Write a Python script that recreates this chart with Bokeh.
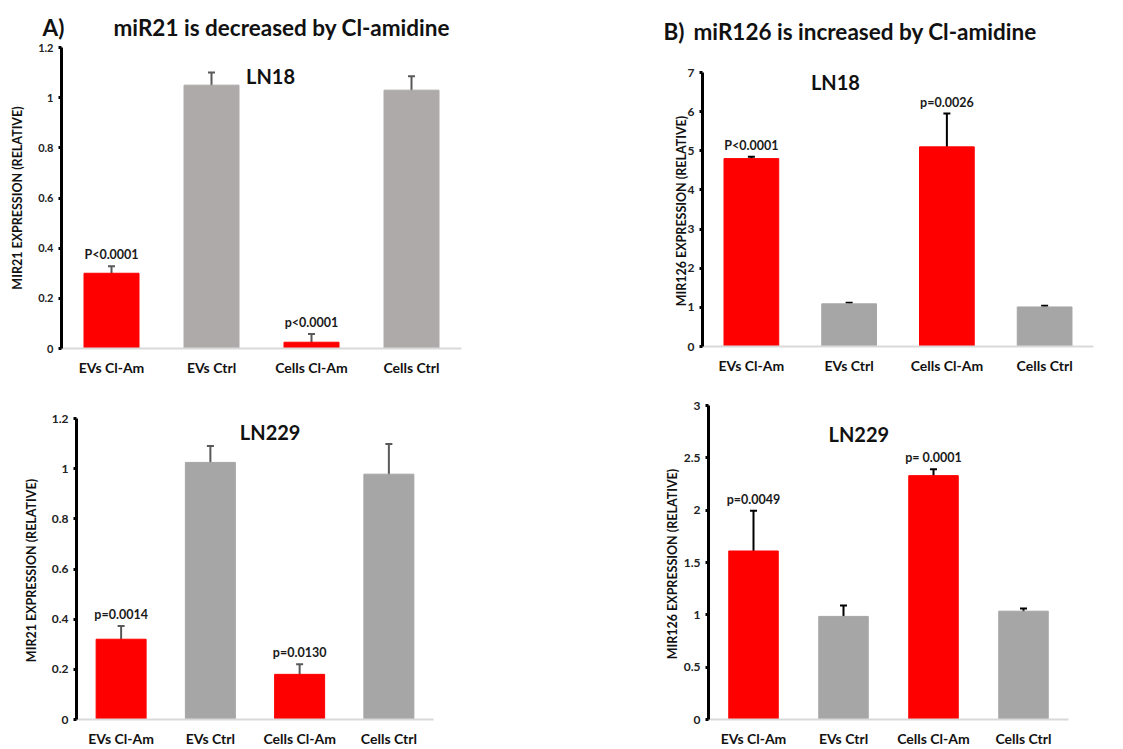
from bokeh.plotting import figure
from bokeh.models import (ColumnDataSource, FactorRange, Range1d, FixedTicker,
                          NumeralTickFormatter, Whisker, TeeHead, Label)
from bokeh.layouts import column, row
from bokeh.embed import file_html
from bokeh.resources import INLINE
from bokeh.core.properties import value

# ---------------- data ----------------
categories = ["EVs Cl-Am", "EVs Ctrl", "Cells Cl-Am", "Cells Ctrl"]

# A) miR21, LN18
ln18_mir21 = [0.30, 1.05, 0.025, 1.03]
ln18_mir21_err = [0.028, 0.05, 0.033, 0.055]
ln18_mir21_p = ["P<0.0001", "", "p<0.0001", ""]

# B) miR126, LN18
ln18_mir126 = [4.80, 1.09, 5.10, 1.01]
ln18_mir126_err = [0.05, 0.03, 0.85, 0.03]
ln18_mir126_p = ["P<0.0001", "", "p=0.0026", ""]

# A) miR21, LN229
ln229_mir21 = [0.32, 1.025, 0.18, 0.978]
ln229_mir21_err = [0.053, 0.065, 0.04, 0.12]
ln229_mir21_p = ["p=0.0014", "", "p=0.0130", ""]

# B) miR126, LN229
ln229_mir126 = [1.61, 0.985, 2.33, 1.035]
ln229_mir126_err = [0.385, 0.105, 0.06, 0.025]
ln229_mir126_p = ["p=0.0049", "", "p= 0.0001", ""]

ticks_mir21 = [0, 0.2, 0.4, 0.6, 0.8, 1, 1.2]
ticks_mir126_ln18 = [0, 1, 2, 3, 4, 5, 6, 7]
ticks_mir126_ln229 = [0, 0.5, 1, 1.5, 2, 2.5, 3]

heading_a = ["A)", "miR21 is decreased by Cl-amidine"]
heading_b = ["B)", "miR126 is increased by Cl-amidine"]

FONT = "Lato"
RED = "#ff0000"
STRIP_A = 41
STRIP_B = 48


def heading(letter, text, x_letter, x_text, strip_h, y_center):
    h = figure(width=560, height=strip_h, output_backend="svg",
               toolbar_location=None, tools="", x_range=Range1d(0, 560),
               y_range=Range1d(0, strip_h), x_axis_location=None,
               y_axis_location=None, min_border=0)
    h.outline_line_color = None
    h.xgrid.grid_line_color = None
    h.ygrid.grid_line_color = None
    for t, x in ((letter, x_letter), (text, x_text)):
        h.add_layout(Label(x=x, y=strip_h - y_center, x_units="screen",
                           y_units="screen", text=t, text_font=FONT,
                           text_font_style="bold", text_font_size="22.5px",
                           text_baseline="middle", text_color="#111111"))
    return h


def panel(vals, errs, plabels, gray, err_color, ymax, ticks, ylabel, title,
          title_x, title_y, width, height, borders, bar_w, ylab_standoff,
          xlab_standoff, tick_size="12px"):
    upper = [v + e for v, e in zip(vals, errs)]
    lower = [max(v - e, 0) for v, e in zip(vals, errs)]
    colors = [RED, gray, RED, gray]
    src = ColumnDataSource(dict(x=categories, top=vals, upper=upper,
                                lower=lower, color=colors, p=plabels))
    p = figure(x_range=FactorRange(*categories), y_range=Range1d(0, ymax),
               width=width, height=height, output_backend="svg",
               toolbar_location=None, tools="")
    p.min_border_left, p.min_border_right, p.min_border_top, p.min_border_bottom = borders
    p.outline_line_color = None
    p.xgrid.grid_line_color = None
    p.ygrid.grid_line_color = None
    p.background_fill_color = "white"
    p.border_fill_color = "white"

    p.vbar(x="x", top="top", width=bar_w, color="color", source=src,
           line_color="color")
    w = Whisker(source=src, base="x", upper="upper", lower="lower",
                line_color=err_color, line_width=2,
                upper_head=TeeHead(size=7, line_color=err_color, line_width=2),
                lower_head=TeeHead(size=7, line_color=err_color, line_width=2))
    p.add_layout(w)
    p.text(x="x", y="upper", text="p", source=src, text_align="center",
           text_baseline="bottom", y_offset=-4, text_font=value(FONT),
           text_font_style="bold", text_font_size="12.5px", text_color="#1a1a1a")

    p.add_layout(Label(x=title_x, y=title_y, text=title, text_font=FONT,
                       text_font_style="bold", text_font_size="20px",
                       text_align="center", text_baseline="middle",
                       text_color="#111111"))

    ya = p.yaxis[0]
    ya.ticker = FixedTicker(ticks=ticks)
    ya.formatter = NumeralTickFormatter(format="0.[0]")
    ya.axis_line_color = "black"
    ya.axis_line_width = 3
    ya.major_tick_line_color = "black"
    ya.major_tick_line_width = 3
    ya.major_tick_out = 3
    ya.major_tick_in = 0
    ya.minor_tick_line_color = None
    ya.major_label_text_font = FONT
    ya.major_label_text_font_style = "bold"
    ya.major_label_text_font_size = tick_size
    ya.major_label_text_color = "#222222"
    ya.major_label_standoff = 5
    ya.axis_label = ylabel
    ya.axis_label_text_font = FONT
    ya.axis_label_text_font_style = "bold"
    ya.axis_label_text_font_size = "12.5px"
    ya.axis_label_text_color = "#111111"
    ya.axis_label_standoff = ylab_standoff

    xa = p.xaxis[0]
    xa.axis_line_color = "#d9d9d9"
    xa.axis_line_width = 2
    xa.major_tick_line_color = None
    xa.major_tick_out = 0
    xa.major_tick_in = 0
    xa.minor_tick_line_color = None
    xa.minor_tick_out = 0
    xa.major_label_text_font = FONT
    xa.major_label_text_font_style = "bold"
    xa.major_label_text_font_size = "14px"
    xa.major_label_text_color = "#111111"
    xa.major_label_standoff = xlab_standoff
    return p


ha = heading(heading_a[0], heading_a[1], 42, 113, STRIP_A, 27)
hb = heading(heading_b[0], heading_b[1], 103, 133, STRIP_B, 31)

p1 = panel(ln18_mir21, ln18_mir21_err, ln18_mir21_p, "#aeaaaa", "#595959",
           1.2, ticks_mir21, "MIR21 EXPRESSION (RELATIVE)", "LN18",
           2.09, 1.088, 560, 385 - STRIP_A, (61, 99, 47 - STRIP_A, 37),
           0.55, 10, 10, tick_size="11px")
p2 = panel(ln18_mir126, ln18_mir126_err, ln18_mir126_p, "#a6a6a6", "black",
           7, ticks_mir126_ln18, "MIR126 EXPRESSION  (RELATIVE)", "LN18",
           1.36, 6.75, 560, 385 - STRIP_B, (142, 27, 72 - STRIP_B, 39),
           0.56, -4, 10)
p3 = panel(ln229_mir21, ln229_mir21_err, ln229_mir21_p, "#a6a6a6", "#595959",
           1.2, ticks_mir21, "MIR21 EXPRESSION  (RELATIVE)", "LN229",
           2.17, 1.146, 560, 364, (76, 127, 33, 28), 0.56, 10, 10)
p4 = panel(ln229_mir126, ln229_mir126_err, ln229_mir126_p, "#a6a6a6", "black",
           3, ticks_mir126_ln229, "MIR126 EXPRESSION  (RELATIVE)", "LN229",
           1.67, 2.73, 560, 364, (148, 52, 20, 28), 0.55, 1, 10)

layout = column(
    row(column(column(ha), column(p1)), column(column(hb), column(p2))),
    row(column(p3), column(p4)))
open("out.html", "w").write(file_html(layout, INLINE))
